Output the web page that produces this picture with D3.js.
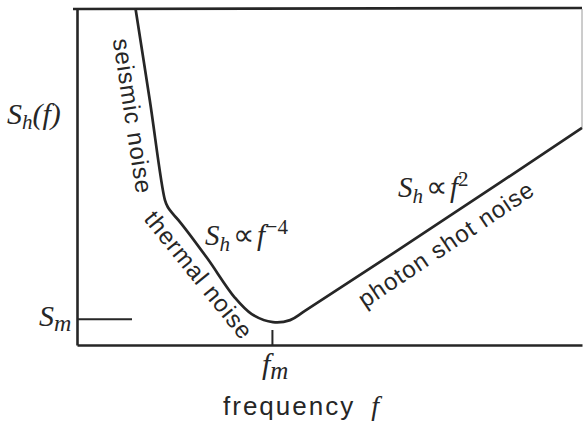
<!DOCTYPE html>
<html>
<head>
<meta charset="utf-8">
<script src="https://cdn.jsdelivr.net/npm/d3@7"></script>
<style>
  html, body { margin: 0; padding: 0; background: #fff; }
  svg { display: block; }
  .lbl { font-family: "Liberation Sans", Arial, sans-serif; fill: #262626; }
  .math { font-family: "Liberation Serif", "Times New Roman", serif; font-style: italic; fill: #262626; }
</style>
</head>
<body>
<svg id="chart" width="583" height="424"></svg>
<script>
// Detector noise curve, in log-frequency / log-strain-noise units
const logF = [0.58, 0.72, 0.87, 0.90, 0.95, 1.02, 1.29, 1.56, 1.73, 1.94, 2.11, 2.26, 3.66, 5.00];
const logS = [5.00, 3.65, 2.16, 2.05, 1.95, 1.83, 1.29, 0.71, 0.46, 0.34, 0.37, 0.51, 1.89, 3.23];

// Marked frequency of minimum noise and the minimum level
const fmValue = 1.93;
const smValue = 0.39;

const xDomain = [0, 5];
const yDomain = [0, 5];

const ink = "#262626";
const svg = d3.select("#chart");

const x = d3.scaleLinear().domain(xDomain).range([77, 582]);
const y = d3.scaleLinear().domain(yDomain).range([345, 9]);

// Bottom axis with the single f_m tick pointing into the plot
const xAxis = svg.append("g")
  .attr("transform", `translate(0,${y(0)})`)
  .call(d3.axisBottom(x).tickValues([fmValue]).tickFormat("").tickSize(-15).tickSizeOuter(0));
xAxis.select(".domain").attr("stroke", ink).attr("stroke-width", 2.6);
xAxis.selectAll(".tick line").attr("stroke", ink).attr("stroke-width", 2);

// Left axis with the S_m tick pointing into the plot
const yAxis = svg.append("g")
  .attr("transform", `translate(${x(0)},0)`)
  .call(d3.axisLeft(y).tickValues([smValue]).tickFormat("").tickSize(-55).tickSizeOuter(0));
yAxis.select(".domain").attr("stroke", ink).attr("stroke-width", 2.6);
yAxis.selectAll(".tick line").attr("stroke", ink).attr("stroke-width", 2);

// Top frame edge and faint right edge
svg.append("line")
  .attr("x1", x(0) - 4).attr("x2", x(5))
  .attr("y1", y(5)).attr("y2", y(5) - 1)
  .attr("stroke", ink).attr("stroke-width", 2.6);
svg.append("line")
  .attr("x1", x(5)).attr("x2", x(5))
  .attr("y1", y(5)).attr("y2", y(logS[logS.length - 1]))
  .attr("stroke", "#9a9a9a").attr("stroke-width", 1);

// Noise curve
const pts = logF.map((f, i) => [f, logS[i]]);
svg.append("path")
  .datum(pts)
  .attr("fill", "none")
  .attr("stroke", ink)
  .attr("stroke-width", 2.7)
  .attr("stroke-linejoin", "round")
  .attr("d", d3.line().x(d => x(d[0])).y(d => y(d[1])).curve(d3.curveCatmullRom.alpha(0.5)));

// Rotated labels along the curve branches
function sideLabel(text, cx, cy, angle) {
  svg.append("text")
    .attr("class", "lbl")
    .attr("font-size", 24)
    .attr("letter-spacing", 1)
    .attr("text-anchor", "middle")
    .attr("dominant-baseline", "central")
    .attr("transform", `translate(${cx},${cy}) rotate(${angle})`)
    .text(text);
}
sideLabel("seismic noise", 133, 116, 81.4);
sideLabel("thermal noise", 199, 275, 51);
sideLabel("photon shot noise", 446, 244, -33.8);

// Math labels built from tspans
function mathLabel(parts, px, py, size) {
  const t = svg.append("text").attr("class", "math")
    .attr("x", px).attr("y", py).attr("font-size", size);
  parts.forEach(p => {
    const s = t.append("tspan").text(p.t);
    if (p.dy) s.attr("dy", p.dy);
    if (p.fs) s.attr("font-size", p.fs);
    if (p.up) s.attr("font-style", "normal");
    if (p.dx) s.attr("dx", p.dx);
  });
  return t;
}

// S_h(f) on the vertical axis
mathLabel([{t: "S"}, {t: "h", dy: 5, fs: 21}, {t: "(f)", dy: -5}], 7, 124, 30);
// S_m beside its tick
mathLabel([{t: "S"}, {t: "m", dy: 5, fs: 24}], 39, 326, 30);
// f_m under its tick
mathLabel([{t: "f"}, {t: "m", dy: 5, fs: 25}], x(fmValue) - 10, 374, 30);
// Power-law annotations
mathLabel([{t: "S"}, {t: "h", dy: 6, fs: 21}, {t: "\u221D", dy: -6, dx: 3, up: true, fs: 30}, {t: "f", dx: 3}, {t: "\u2212", dy: -11, up: true, fs: 22}, {t: "4", up: true, fs: 21}], 205, 245, 29);
mathLabel([{t: "S"}, {t: "h", dy: 6, fs: 21}, {t: "\u221D", dy: -6, dx: 3, up: true, fs: 30}, {t: "f", dx: 3}, {t: "2", dy: -11, up: true, fs: 21}], 398, 197, 29);

// Axis title
const title = svg.append("text")
  .attr("x", 223).attr("y", 415)
  .attr("font-size", 26);
title.append("tspan").attr("class", "lbl").attr("letter-spacing", 2).text("frequency");
title.append("tspan").attr("class", "math").attr("dx", 16).attr("font-size", 28).text("f");
</script>
</body>
</html>
